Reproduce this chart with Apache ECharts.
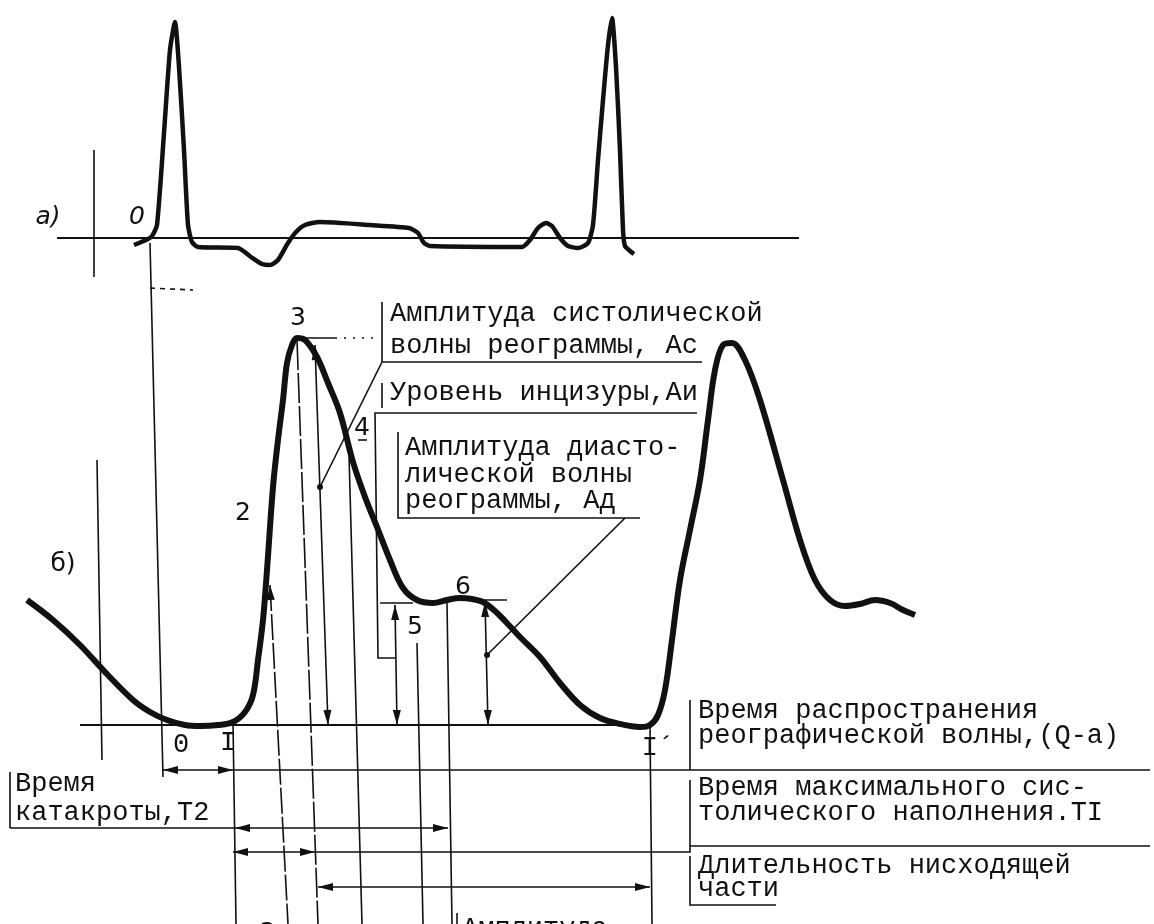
<!DOCTYPE html>
<html><head><meta charset="utf-8">
<script src="https://cdn.jsdelivr.net/npm/echarts@6/dist/echarts.min.js"></script>
<style>html,body{margin:0;padding:0;background:#fff}#c{width:1154px;height:924px}</style>
</head><body><div id="c"></div>
<script>
// ---------- DATA ----------
// а) ECG: time (ms from Q), amplitude (mV)
const ecgTime = [-28,-4,8,18,32,44,54,62,72,80,88,100,180,206,228,244,260,280,296,314,344,444,522,540,552,564,748,764,780,796,808,824,840,860,880,890,900,910,920,928,936,944,950,954,964,972];
const ecgMv   = [-0.035,-0.01,0.01,0.065,0.525,0.94,1.08,0.855,0.44,0.065,-0.02,-0.045,-0.05,-0.095,-0.13,-0.135,-0.11,-0.025,0.03,0.065,0.08,0.065,0.05,0.025,-0.025,-0.04,-0.045,-0.01,0.05,0.075,0.06,0,-0.04,-0.05,-0.025,0.065,0.39,0.69,0.965,1.1,0.855,0.44,0.04,-0.04,-0.065,-0.08];
// б) Rheogram: time (ms), amplitude (arb. units)
const rheoTime = [-242,-190,-136,-86,-30,4,38,74,104,140,170,194,210,220,230,238,250,260,270,278,288,298,314,338,360,384,410,434,458,484,510,538,570,598,624,648,670,694,714,744,784,824,864,904,944,984,1004,1020,1034,1048,1064,1084,1104,1120,1134,1150,1168,1194,1224,1270,1304,1334,1364,1394,1424,1454,1484,1510,1534];
const rheoAmp  = [31.25,26.25,20,13.25,6.25,3.25,1.25,0,-0.25,0,0.75,3.25,7.5,16.25,26.25,38.75,59.5,71.25,81.25,90.5,95,96.75,96.25,92,85.5,78,65.75,57,49.5,41.25,34.25,31.25,30.5,31.25,31.75,31.5,30.75,28.5,26,22,17,10.5,5,1.75,0.25,-0.5,0,2.5,8.75,21.25,36.25,48.75,61.25,76.25,88.75,95,95.5,91.25,81.25,61.25,46.25,36.25,31.25,29.75,30.25,31.25,30.5,28.75,27.5];

// characteristic points of the rheogram (labels)
const pointLabels = ['2','3','4','5','6','0','I','I´','2'];
const pointTime   = [190,300,428,534,630,66,160,1020,240];
const pointAmp    = [53,101.75,74.25,24.5,34.5,-5,-4.5,-5.75,-52];

// captions
const captionText = ['Амплитуда систолической','волны реограммы, Ас','Уровень инцизуры,Аи','Амплитуда диасто-','лической волны','реограммы, Ад','Время распространения','реографической волны,(Q-a)','Время максимального сис-','толического наполнения.TI','Длительность нисходящей','части','Время','катакроты,T2','Амплитуда'];
const captionTime = [484,484,484,514,514,514,1100,1100,1100,1100,1100,1100,-266,-266,628];
const captionAmp  = [102.75,94.75,83,69.25,62.5,56,3.5,-2.75,-15.75,-22,-35.25,-41,-14.75,-22,-51];

// annotation lines (time, amp) polylines
const guideLines = [
  {p:[[-102,66.25],[-92,-8.75]]},
  {p:[[4,120.5],[30,-13]]},
  {p:[[4,109.25],[90,108.75]], dash:[5,5]},
  {p:[[170,0.75],[176,-49.75]]},
  {p:[[244,35],[280,-49.75]], dash:[26,3]},
  {p:[[298,96.25],[340,-49.75]], dash:[30,3]},
  {p:[[334,95],[360,0]]},
  {p:[[402,67.5],[428,-49.75]]},
  {p:[[1098,78],[454,78],[460,16.75],[494,16.75]]},
  {p:[[464,30.5],[530,30.5]]},
  {p:[[494,30],[498,0]]},
  {p:[[538,20.5],[550,-49.75]]},
  {p:[[598,30.5],[608,-49.75]]},
  {p:[[650,31.25],[718,31.25]]},
  {p:[[674,30.75],[680,0]]},
  {p:[[678,17.5],[954,51.75]]},
  {p:[[500,73.25],[500,51.75],[984,51.75]]},
  {p:[[468,90.75],[344,59.5]]},
  {p:[[468,105.75],[468,90.75],[1108,90.75]]},
  {p:[[298,96.75],[374,96.75]]},
  {p:[[374,96.75],[458,96.75]], dash:[2,7]},
  {p:[[468,85.5],[468,79.25]]},
  {p:[[420,71.25],[438,71.25]]},
  {p:[[-136,0],[1004,0]], w:2},
  {p:[[1004,-0.5],[1008,-49.75]]},
  {p:[[30,-11.25],[2004,-11.25]]},
  {p:[[1084,6.25],[1084,-11.25]]},
  {p:[[-276,-25.75],[600,-25.75]]},
  {p:[[-276,-11.75],[-276,-25.75]]},
  {p:[[170,-31.75],[1084,-31.75],[1084,-30.25],[2004,-30.25]]},
  {p:[[1084,-13.75],[1084,-30.25]]},
  {p:[[340,-40.5],[1004,-40.5]]},
  {p:[[1084,-32.75],[1084,-45],[1256,-45]]},
  {p:[[618,-47],[618,-49.75]]}
];
// arrow heads: tip, and a point the arrow comes from
const arrowHeads = [
  [[244,35],[248,25]],
  [[334,95],[337,85]],[[360,0],[357,10]],
  [[494,30],[495,20]],[[498,0],[497,10]],
  [[674,30.75],[675,20]],[[680,0],[679,10]],
  [[30,-11.25],[60,-11.25]],[[170,-11.25],[140,-11.25]],
  [[174,-25.75],[204,-25.75]],[[600,-25.75],[570,-25.75]],
  [[170,-31.75],[200,-31.75]],[[334,-31.75],[304,-31.75]],
  [[340,-40.5],[370,-40.5]],[[1004,-40.5],[974,-40.5]]
];
const dots = [[344,59.5],[678,17.5]];

// ECG guides
const ecgGuides = [
  {p:[[-182,0],[1302,0]], w:2},
  {p:[[-108,0.44],[-108,-0.195]]}
];
const ecgLabels = ['а)','0'];
const ecgLabelTime = [-200,-22];
const ecgLabelMv = [0.105,0.105];

// ---------- RENDER ----------
const INK = '#111';
const MONO = '27px "Liberation Mono"';
function toPts(api, arr){ return arr.map(v => api.coord(v)); }
function head(tip, from, len, hw){
  const dx = tip[0]-from[0], dy = tip[1]-from[1];
  const d = Math.hypot(dx,dy)||1, ux = dx/d, uy = dy/d;
  const bx = tip[0]-ux*len, by = tip[1]-uy*len;
  return {type:'polygon', shape:{points:[tip,[bx-uy*hw,by+ux*hw],[bx+uy*hw,by-ux*hw]]}, style:{fill:INK}};
}
function txt(pt, text, font, align){
  return {type:'text', style:{x:pt[0], y:pt[1], text:text, font:font, fill:INK,
    textAlign:align, textVerticalAlign:'middle', align:align, verticalAlign:'middle'}};
}
function rheoAnnot(params, api){
  const ch = [];
  guideLines.forEach(g => ch.push({type:'polyline', shape:{points:toPts(api,g.p)},
    style:{stroke:INK, lineWidth:g.w||1.6, fill:null, lineDash:g.dash||null}}));
  arrowHeads.forEach(a => { const t = api.coord(a[0]), f = api.coord(a[1]); ch.push(head(t,f,15,4)); });
  dots.forEach(d => { const c = api.coord(d); ch.push({type:'circle', shape:{cx:c[0],cy:c[1],r:3}, style:{fill:INK}}); });
  pointLabels.forEach((s,i) => {
    const c = api.coord([pointTime[i], pointAmp[i]]);
    const mono = (s==='0'||s[0]==='I');
    ch.push(txt(c, s, mono ? '27px "Liberation Mono"' : '25px "DejaVu Sans"', 'center'));
  });
  captionText.forEach((s,i) => ch.push(txt(api.coord([captionTime[i], captionAmp[i]]), s, MONO, 'left')));
  ch.push(txt(api.coord([-170,40.25]), 'б)', '25px "DejaVu Sans"', 'center'));
  return {type:'group', children:ch};
}
function ecgAnnot(params, api){
  const ch = [];
  ecgGuides.forEach(g => ch.push({type:'polyline', shape:{points:toPts(api,g.p)},
    style:{stroke:INK, lineWidth:g.w||1.6, fill:null}}));
  ecgLabels.forEach((s,i) => ch.push(txt(api.coord([ecgLabelTime[i], ecgLabelMv[i]]), s, 'italic 25px "DejaVu Sans"', 'center')));
  return {type:'group', children:ch};
}

const chart = echarts.init(document.getElementById('c'), null, {renderer:'canvas'});
chart.setOption({
  backgroundColor:'#fff',
  animation:false,
  grid:[
    {left:0,right:0,top:0,height:300},
    {left:0,right:0,top:0,bottom:0}
  ],
  xAxis:[
    {type:'value', gridIndex:0, min:-296, max:2012, show:false},
    {type:'value', gridIndex:1, min:-296, max:2012, show:false}
  ],
  yAxis:[
    {type:'value', gridIndex:0, min:-0.31, max:1.19, show:false},
    {type:'value', gridIndex:1, min:-49.75, max:181.25, show:false}
  ],
  series:[
    {type:'custom', xAxisIndex:1, yAxisIndex:1, renderItem:rheoAnnot, data:[[0,0]], z:2, silent:true},
    {type:'custom', xAxisIndex:0, yAxisIndex:0, renderItem:ecgAnnot, data:[[0,0]], z:2, silent:true},
    {type:'line', xAxisIndex:0, yAxisIndex:0, data:ecgTime.map((t,i)=>[t,ecgMv[i]]),
      showSymbol:false, smooth:0.2, lineStyle:{color:INK, width:4.5}, z:3},
    {type:'line', xAxisIndex:1, yAxisIndex:1, data:rheoTime.map((t,i)=>[t,rheoAmp[i]]),
      showSymbol:false, smooth:0.35, lineStyle:{color:INK, width:6}, z:3}
  ]
});
</script></body></html>
